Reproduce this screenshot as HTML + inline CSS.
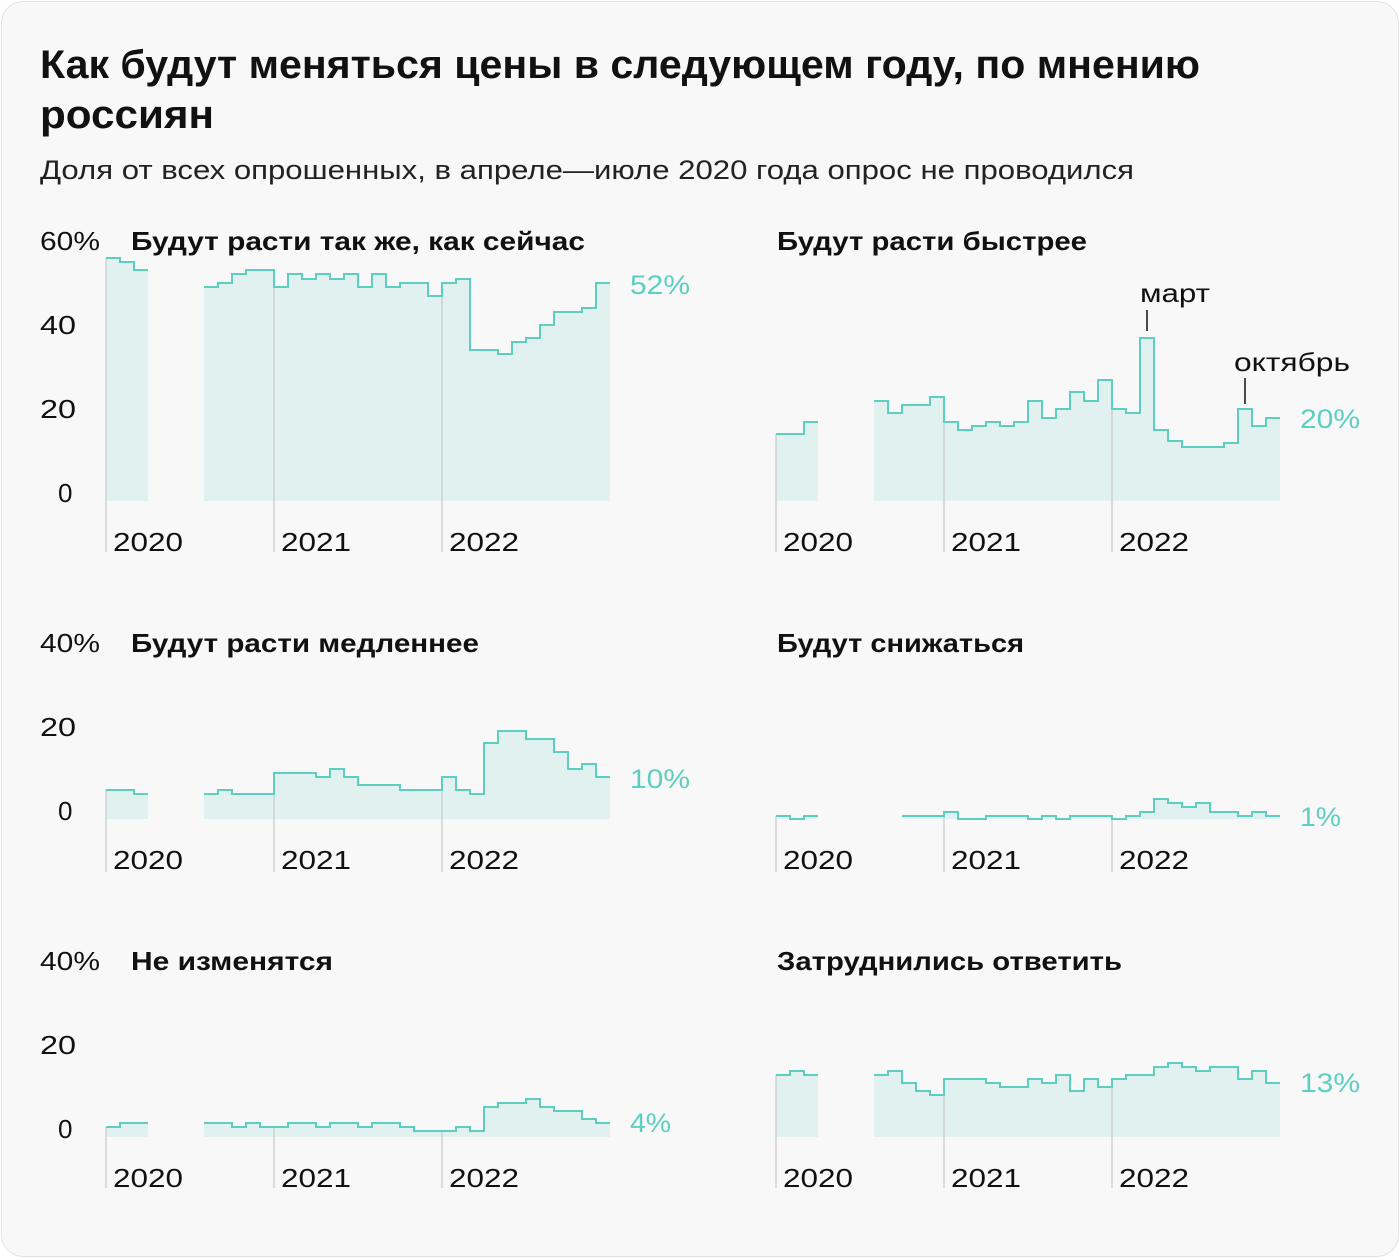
<!DOCTYPE html>
<html><head><meta charset="utf-8"><style>
html,body{margin:0;padding:0;background:#fff}
body{width:1400px;height:1258px;overflow:hidden;font-family:"Liberation Sans","Noto Sans CJK SC",sans-serif}
.card{position:absolute;left:1px;top:1px;width:1396px;height:1254px;border:1px solid #e2e2e2;border-radius:22px;background:#f8f8f8}
</style></head><body>
<div class="card"></div>
<svg id="s" width="1400" height="1258" style="position:absolute;left:0;top:0" font-family="Liberation Sans, sans-serif">
<g lengthAdjust="spacingAndGlyphs">
<text x="40" y="78" font-size="40" font-weight="bold" fill="#111" textLength="1160" lengthAdjust="spacingAndGlyphs">Как будут меняться цены в следующем году, по мнению</text>
<text x="40" y="128" font-size="40" font-weight="bold" fill="#111" textLength="174" lengthAdjust="spacingAndGlyphs">россиян</text>
<text x="40" y="179" font-size="27" fill="#222" textLength="1094" lengthAdjust="spacingAndGlyphs">Доля от всех опрошенных, в апреле—июле 2020 года опрос не проводился</text>
</g>
<g id="charts"></g>
<g font-size="26" fill="#111">
<text x="40" y="250" textLength="60" lengthAdjust="spacingAndGlyphs">60%</text><text x="40" y="334" textLength="36" lengthAdjust="spacingAndGlyphs">40</text><text x="40" y="418" textLength="36" lengthAdjust="spacingAndGlyphs">20</text><text x="58" y="502">0</text>
<text x="40" y="652" textLength="60" lengthAdjust="spacingAndGlyphs">40%</text><text x="40" y="736" textLength="36" lengthAdjust="spacingAndGlyphs">20</text><text x="58" y="820">0</text>
<text x="40" y="970" textLength="60" lengthAdjust="spacingAndGlyphs">40%</text><text x="40" y="1054" textLength="36" lengthAdjust="spacingAndGlyphs">20</text><text x="58" y="1138">0</text>
</g>
<g font-size="26" font-weight="bold" fill="#111">
<text x="131" y="250" textLength="454" lengthAdjust="spacingAndGlyphs">Будут расти так же, как сейчас</text>
<text x="777" y="250" textLength="310" lengthAdjust="spacingAndGlyphs">Будут расти быстрее</text>
<text x="131" y="652" textLength="348" lengthAdjust="spacingAndGlyphs">Будут расти медленнее</text>
<text x="777" y="652" textLength="247" lengthAdjust="spacingAndGlyphs">Будут снижаться</text>
<text x="131" y="970" textLength="202" lengthAdjust="spacingAndGlyphs">Не изменятся</text>
<text x="777" y="970" textLength="345" lengthAdjust="spacingAndGlyphs">Затруднились ответить</text>
</g>
<g font-size="26" fill="#111">
<text x="1140" y="302" textLength="70" lengthAdjust="spacingAndGlyphs">март</text><text x="1234" y="371" textLength="116" lengthAdjust="spacingAndGlyphs">октябрь</text>
</g>
<line x1="1147" y1="310" x2="1147" y2="331" stroke="#111" stroke-width="1.5"/>
<line x1="1245" y1="378" x2="1245" y2="404" stroke="#111" stroke-width="1.5"/>
<g font-size="27" fill="#5ccfc0">
<text x="630" y="294" textLength="60" lengthAdjust="spacingAndGlyphs">52%</text><text x="1300" y="428" textLength="60" lengthAdjust="spacingAndGlyphs">20%</text>
<text x="630" y="788" textLength="60" lengthAdjust="spacingAndGlyphs">10%</text><text x="1300" y="826" textLength="41" lengthAdjust="spacingAndGlyphs">1%</text>
<text x="630" y="1132" textLength="41" lengthAdjust="spacingAndGlyphs">4%</text><text x="1300" y="1092" textLength="60" lengthAdjust="spacingAndGlyphs">13%</text>
</g>
<g font-size="26" fill="#111">
<text x="113" y="551" textLength="70" lengthAdjust="spacingAndGlyphs">2020</text><text x="281" y="551" textLength="70" lengthAdjust="spacingAndGlyphs">2021</text><text x="449" y="551" textLength="70" lengthAdjust="spacingAndGlyphs">2022</text>
<text x="783" y="551" textLength="70" lengthAdjust="spacingAndGlyphs">2020</text><text x="951" y="551" textLength="70" lengthAdjust="spacingAndGlyphs">2021</text><text x="1119" y="551" textLength="70" lengthAdjust="spacingAndGlyphs">2022</text>
<text x="113" y="869" textLength="70" lengthAdjust="spacingAndGlyphs">2020</text><text x="281" y="869" textLength="70" lengthAdjust="spacingAndGlyphs">2021</text><text x="449" y="869" textLength="70" lengthAdjust="spacingAndGlyphs">2022</text>
<text x="783" y="869" textLength="70" lengthAdjust="spacingAndGlyphs">2020</text><text x="951" y="869" textLength="70" lengthAdjust="spacingAndGlyphs">2021</text><text x="1119" y="869" textLength="70" lengthAdjust="spacingAndGlyphs">2022</text>
<text x="113" y="1187" textLength="70" lengthAdjust="spacingAndGlyphs">2020</text><text x="281" y="1187" textLength="70" lengthAdjust="spacingAndGlyphs">2021</text><text x="449" y="1187" textLength="70" lengthAdjust="spacingAndGlyphs">2022</text>
<text x="783" y="1187" textLength="70" lengthAdjust="spacingAndGlyphs">2020</text><text x="951" y="1187" textLength="70" lengthAdjust="spacingAndGlyphs">2021</text><text x="1119" y="1187" textLength="70" lengthAdjust="spacingAndGlyphs">2022</text>
</g>
</svg>
<script>
var P=[
{x0:106,base:501,bot:552,segs:[[[106,120,258],[120,134,262],[134,148,270]],[[204,218,287],[218,232,283],[232,246,274],[246,274,270],[274,288,287],[288,302,274],[302,316,279],[316,330,274],[330,344,279],[344,358,274],[358,372,287],[372,386,274],[386,400,287],[400,428,283],[428,442,296],[442,456,283],[456,470,279],[470,498,350],[498,512,354],[512,526,342],[526,540,338],[540,554,325],[554,582,312],[582,596,308],[596,610,283]]]},
{x0:776,base:501,bot:552,segs:[[[776,804,434],[804,818,422]],[[874,888,401],[888,902,413],[902,930,405],[930,944,397],[944,958,422],[958,972,430],[972,986,426],[986,1000,422],[1000,1014,426],[1014,1028,422],[1028,1042,401],[1042,1056,418],[1056,1070,409],[1070,1084,392],[1084,1098,401],[1098,1112,380],[1112,1126,409],[1126,1140,413],[1140,1154,338],[1154,1168,430],[1168,1182,441],[1182,1224,447],[1224,1238,443],[1238,1252,409],[1252,1266,426],[1266,1280,418]]]},
{x0:106,base:819,bot:872,segs:[[[106,134,790],[134,148,794]],[[204,218,794],[218,232,790],[232,274,794],[274,316,773],[316,330,777],[330,344,769],[344,358,777],[358,400,785],[400,442,790],[442,456,777],[456,470,790],[470,484,794],[484,498,743],[498,526,731],[526,554,739],[554,568,752],[568,582,769],[582,596,764],[596,610,777]]]},
{x0:776,base:819,bot:872,segs:[[[776,790,816],[790,804,819],[804,818,816]],[[902,944,816],[944,958,812],[958,986,819],[986,1028,816],[1028,1042,819],[1042,1056,816],[1056,1070,819],[1070,1112,816],[1112,1126,819],[1126,1140,816],[1140,1154,812],[1154,1168,799],[1168,1182,803],[1182,1196,807],[1196,1210,803],[1210,1238,812],[1238,1252,816],[1252,1266,812],[1266,1280,816]]]},
{x0:106,base:1137,bot:1188,segs:[[[106,120,1127],[120,148,1123]],[[204,232,1123],[232,246,1127],[246,260,1123],[260,288,1127],[288,316,1123],[316,330,1127],[330,358,1123],[358,372,1127],[372,400,1123],[400,414,1127],[414,456,1131],[456,470,1127],[470,484,1131],[484,498,1107],[498,526,1103],[526,540,1099],[540,554,1107],[554,582,1111],[582,596,1119],[596,610,1123]]]},
{x0:776,base:1137,bot:1188,segs:[[[776,790,1075],[790,804,1071],[804,818,1075]],[[874,888,1075],[888,902,1071],[902,916,1083],[916,930,1091],[930,944,1095],[944,986,1079],[986,1000,1083],[1000,1028,1087],[1028,1042,1079],[1042,1056,1083],[1056,1070,1075],[1070,1084,1091],[1084,1098,1079],[1098,1112,1087],[1112,1126,1079],[1126,1154,1075],[1154,1168,1067],[1168,1182,1063],[1182,1196,1067],[1196,1210,1071],[1210,1238,1067],[1238,1252,1079],[1252,1266,1071],[1266,1280,1083]]]}
];
var out='';
P.forEach(function(p){
 var grid='',fills='',lines='';
 p.segs.forEach(function(g){
  var d='M'+g[0][0]+' '+g[0][2];
  g.forEach(function(s,i){ if(i>0) d+=' V'+s[2]; d+=' H'+s[1];});
  fills+='<path d="'+d+' V'+p.base+' H'+g[0][0]+' Z" fill="#e0f1ef"/>';
  lines+='<path d="'+d+'" fill="none" stroke="#5ccfc0" stroke-width="2"/>';
 });
 [0,168,336].forEach(function(o){
  var x=p.x0+o,y=p.base;
  p.segs.forEach(function(g){g.forEach(function(s){if(x>=s[0]&&x<s[1])y=s[2];});});
  grid+='<line x1="'+x+'" y1="'+y+'" x2="'+x+'" y2="'+p.bot+'" stroke="#c8c8c8" stroke-width="1.2"/>';
 });
 out+=fills+grid+lines;
});
document.getElementById('charts').innerHTML=out;
</script>
</body></html>
